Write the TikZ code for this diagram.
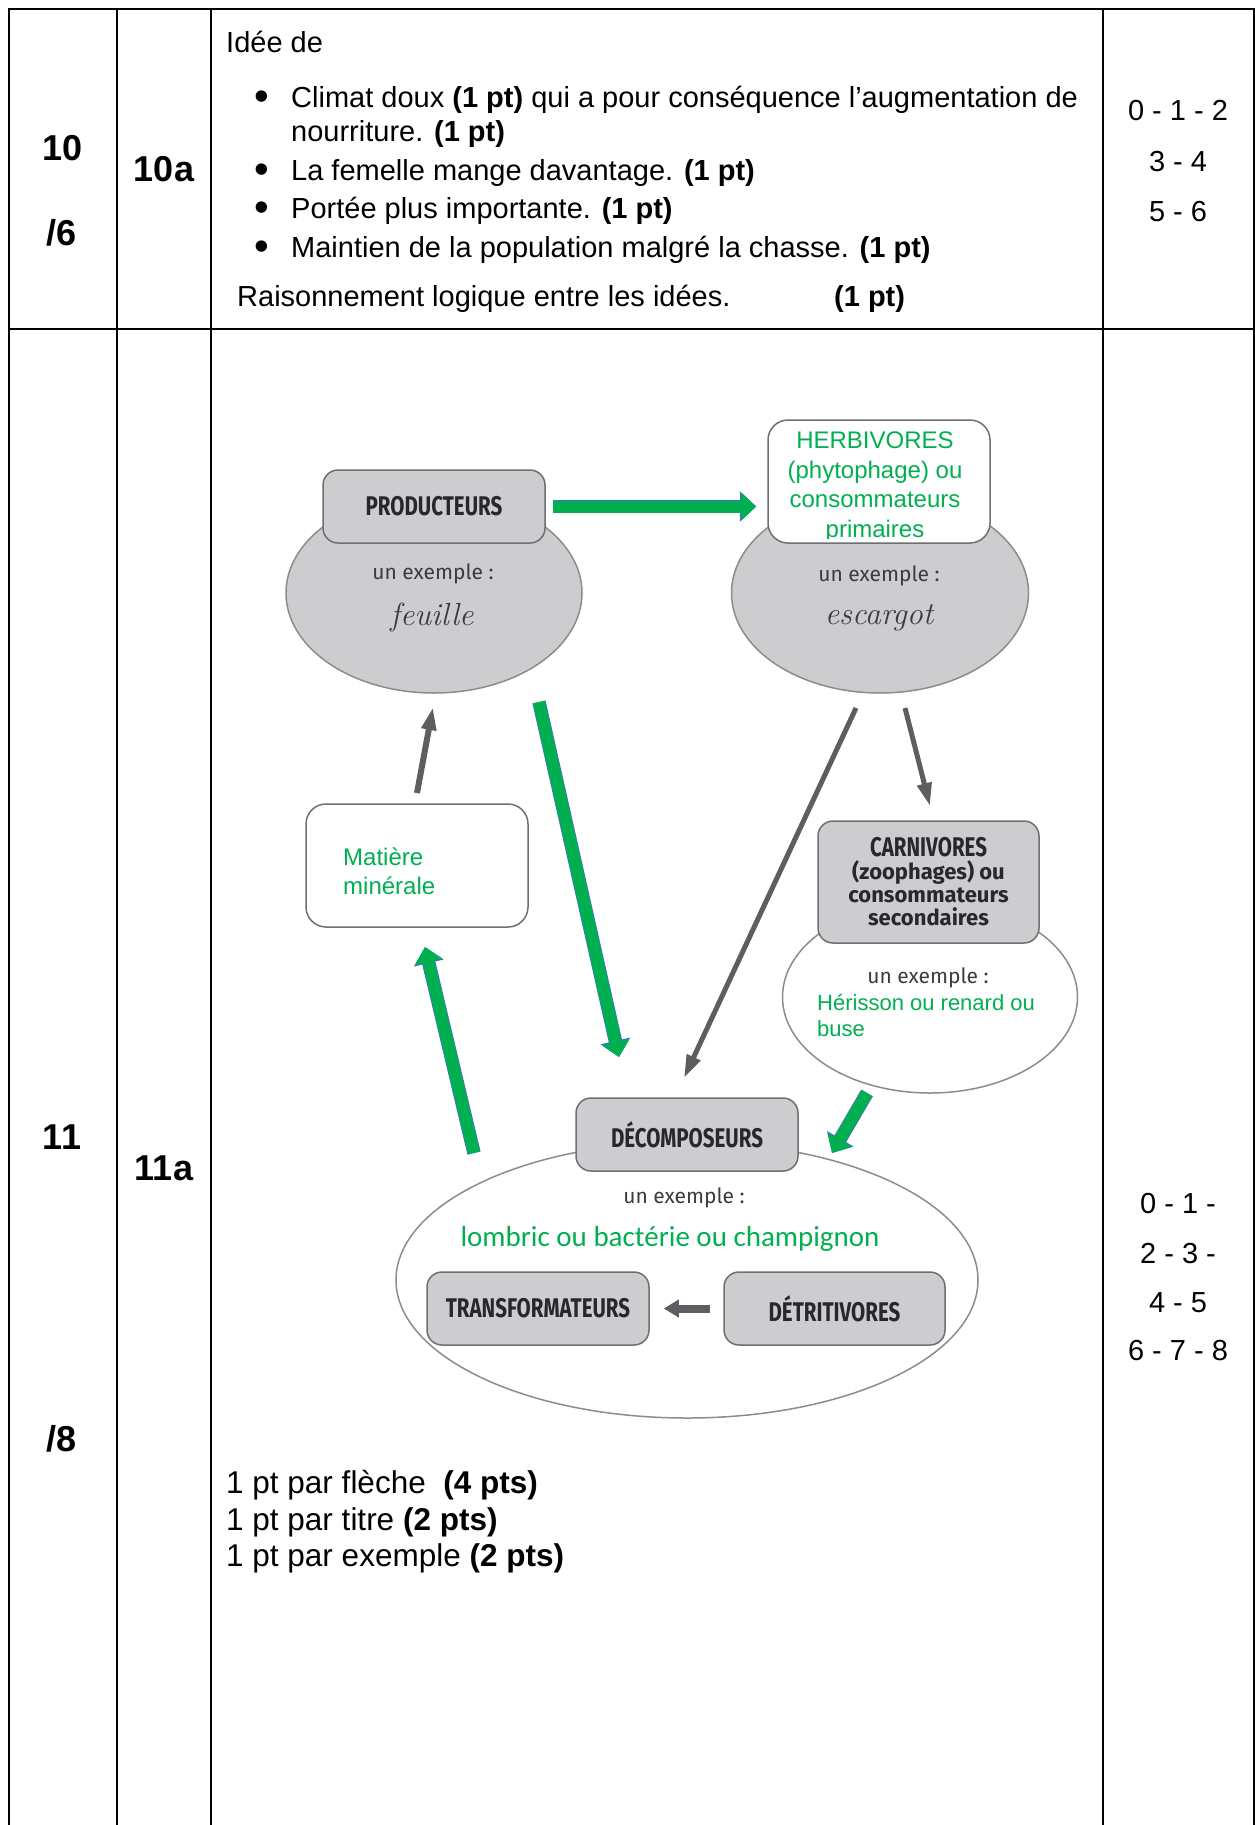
\documentclass[tikz,border=0pt]{standalone}
\usepackage{fontspec}
\setmainfont{Liberation Sans}
\newfontfamily\labfont[FakeStretch=0.76]{Fira Sans}
\newfontfamily\exfont{Fira Sans}
\newfontfamily\calfont{Carlito}
\newfontfamily\cursfont{Latin Modern Roman}
\usetikzlibrary{arrows.meta,shapes.geometric}
\definecolor{boxgray}{RGB}{205,205,208}
\definecolor{boxline}{RGB}{110,111,115}
\definecolor{ellline}{RGB}{140,140,142}
\definecolor{vert}{RGB}{0,176,80}
\definecolor{arrblue}{RGB}{68,114,196}
\definecolor{arrgray}{RGB}{93,94,98}
\definecolor{labtxt}{RGB}{40,40,42}
\definecolor{extxt}{RGB}{60,60,62}

\begin{document}
\begin{tikzpicture}[x=1pt, y=-1pt,
    rule/.style={line width=2.5pt},
    body/.style={inner sep=0pt, anchor=base west, font=\fontsize{29}{34}\selectfont},
    dot/.style={inner sep=0pt, anchor=base, font=\fontsize{42}{42}\selectfont},
    score/.style={inner sep=0pt, anchor=base, font=\fontsize{29}{34}\selectfont},
    qnum/.style={inner sep=0pt, font=\fontsize{36}{40}\selectfont\bfseries},
    note/.style={inner sep=0pt, anchor=base west, font=\fontsize{31.5}{37}\selectfont},
    graybox/.style={rectangle, rounded corners=15pt, draw=boxline, fill=boxgray, line width=1.5pt, inner sep=0pt, minimum width=222pt, minimum height=73pt, text=labtxt, font=\labfont\bfseries\fontsize{27}{30}\selectfont},
    whitebox/.style={graybox, fill=white, rounded corners=20pt, minimum height=123pt},
    bigell/.style={ellipse, draw=ellline, fill=boxgray, line width=1.5pt, inner sep=0pt},
    exlab/.style={inner sep=0pt, text=extxt, font=\exfont\fontsize{21}{24}\selectfont},
    exword/.style={inner sep=0pt, text=extxt, font=\cursfont\itshape\fontsize{32}{34}\selectfont},
    greentxt/.style={inner sep=0pt, text=vert, font=\fontsize{23}{26}\selectfont},
    garrow/.style={draw=vert, line width=12pt, -{Triangle[width=27pt,length=15pt]}, preaction={draw=arrblue, line width=13.5pt, -{Triangle[width=29.5pt,length=16.5pt]}}},
    grarrow/.style={draw=arrgray, line width=5pt, -{Triangle[width=14pt,length=23pt]}}
  ]
    \useasboundingbox (0,0) rectangle (1255,1825);

    % table
    \draw[rule] (9,1825) -- (9,9) -- (1254,9) -- (1254,1825);
    \draw[rule] (9,329) -- (1254,329);
    \draw[rule] (117,9) -- (117,1825);
    \draw[rule] (211,9) -- (211,1825);
    \draw[rule] (1103,9) -- (1103,1825);

    % question 10
    \node[qnum] (q10) at (63,148) {10};
    \node[qnum] (q10tot) at (62,233) {/6};
    \node[qnum] (q10a) at (164,169) {10a};
    \node[body] (idee) at (226,53) {Idée de};
    \node[dot] (bul1) at (262,111) {\textbullet};
    \node[dot] (bul2) at (262,183) {\textbullet};
    \node[dot] (bul3) at (262,221) {\textbullet};
    \node[dot] (bul4) at (262,260) {\textbullet};
    \node[body] (item1) at (291,108) {Climat doux \textbf{(1 pt)} qui a pour conséquence l’augmentation de};
    \node[body] (item1b) at (291,142) {nourriture. \textbf{(1 pt)}};
    \node[body] (item2) at (291,180) {La femelle mange davantage. \textbf{(1 pt)}};
    \node[body] (item3) at (291,218) {Portée plus importante. \textbf{(1 pt)}};
    \node[body] (item4) at (291,257) {Maintien de la population malgré la chasse. \textbf{(1 pt)}};
    \node[body] (logic) at (237,306) {Raisonnement logique entre les idées.};
    \node[body] (logicpt) at (834,306) {\textbf{(1 pt)}};
    \node[score] (s10a) at (1178,121) {0 - 1 - 2};
    \node[score] (s10b) at (1178,171) {3 - 4};
    \node[score] (s10c) at (1178,221) {5 - 6};

    % question 11
    \node[qnum] (q11) at (62,1137) {11};
    \node[qnum] (q11a) at (164,1168) {11a};
    \node[qnum] (q11tot) at (62,1439) {/8};
    \node[score] (s11a) at (1178,1213) {0 - 1 -};
    \node[score] (s11b) at (1178,1263) {2 - 3 -};
    \node[score] (s11c) at (1178,1312) {4 - 5};
    \node[score] (s11d) at (1178,1360) {6 - 7 - 8};
    \node[note] (n1) at (226,1493) {1 pt par flèche\ \ \textbf{(4 pts)}};
    \node[note] (n2) at (226,1530) {1 pt par titre \textbf{(2 pts)}};
    \node[note] (n3) at (226,1566) {1 pt par exemple \textbf{(2 pts)}};

    % food web
    \node[bigell, minimum width=296pt, minimum height=200pt] (prodell) at (434,593) {};
    \node[bigell, minimum width=297pt, minimum height=200pt] (herbell) at (880,593) {};
    \node[bigell, fill=white, minimum width=295pt, minimum height=192pt] (carnell) at (930,997) {};
    \node[bigell, fill=white, minimum width=582pt, minimum height=276pt] (decell) at (687,1280) {};

    \node[graybox] (prod) at (434,506.5) {PRODUCTEURS};
    \node[whitebox] (herb) at (879,481.5) {};
    \begin{scope}
      \clip (herb.north west) rectangle ([yshift=5pt]herb.south east);
      \node[greentxt, align=center, font=\fontsize{24}{29.5}\selectfont] (herbtxt) at (875,487) {HERBIVORES\\(phytophage) ou\\consommateurs\\primaires};
    \end{scope}
    \node[graybox, minimum width=221pt, minimum height=122pt, align=center, font=\exfont\bfseries\fontsize{22}{23}\selectfont] (carn) at (928.5,882) {{\labfont\fontsize{27}{23}\selectfont CARNIVORES}\\(zoophages) ou\\consommateurs\\secondaires};
    \node[graybox] (decomp) at (687,1134.5) {DÉCOMPOSEURS};
    \node[graybox] (transf) at (538,1308.5) {TRANSFORMATEURS};
    \node[graybox, minimum width=221pt] (detr) at (834.5,1308.5) {DÉTRITIVORES};
    \node[whitebox] (mat) at (417,865.5) {};

    \node[exlab] (prodex) at (433,574) {un exemple :};
    \node[exword] (prodword) at (432,617) {feuille};
    \node[exlab] (herbex) at (879,576) {un exemple :};
    \node[exword] (herbword) at (879,618) {escargot};
    \node[exlab] (carnex) at (928,978) {un exemple :};
    \node[greentxt, anchor=west, align=left, font=\fontsize{22}{26}\selectfont] (carnword) at (817,1015) {Hérisson ou renard ou\\buse};
    \node[exlab] (decex) at (684,1198) {un exemple :};
    \node[inner sep=0pt, text=vert, font=\calfont\fontsize{29}{34}\selectfont] (decword) at (670,1239) {lombric ou bactérie ou champignon};
    \node[greentxt, anchor=west, align=left, font=\fontsize{24}{29}\selectfont] (matword) at (343,871) {Matière\\minérale};

    % arrow ends
    \coordinate (prodS) at (539,702);
    \coordinate (decN) at (619,1057);
    \coordinate (decW) at (474,1153);
    \coordinate (matS) at (425,947);
    \coordinate (carnS) at (867,1093);
    \coordinate (decE) at (832,1153);
    \coordinate (herbS) at (856,708);
    \coordinate (decNE) at (684,1078);
    \coordinate (herbSE) at (905,708);
    \coordinate (carnN) at (930,806);
    \coordinate (matN) at (417,793);
    \coordinate (prodSW) at (433,707);

    \draw[garrow] ([xshift=7pt]prod.east) -- ([xshift=-11pt]herb.west |- prod.east);
    \draw[garrow] (prodS) -- (decN);
    \draw[garrow] (decW) -- (matS);
    \draw[garrow] (carnS) -- (decE);
    \draw[grarrow] (herbS) -- (decNE);
    \draw[grarrow] (herbSE) -- (carnN);
    \draw[grarrow, line width=6pt] (matN) -- (prodSW);
    \draw[grarrow, line width=8pt, -{Triangle[width=17pt,length=15pt]}] ([xshift=-13pt]detr.west) -- ([xshift=14pt]transf.east);
  \end{tikzpicture}
\end{document}
